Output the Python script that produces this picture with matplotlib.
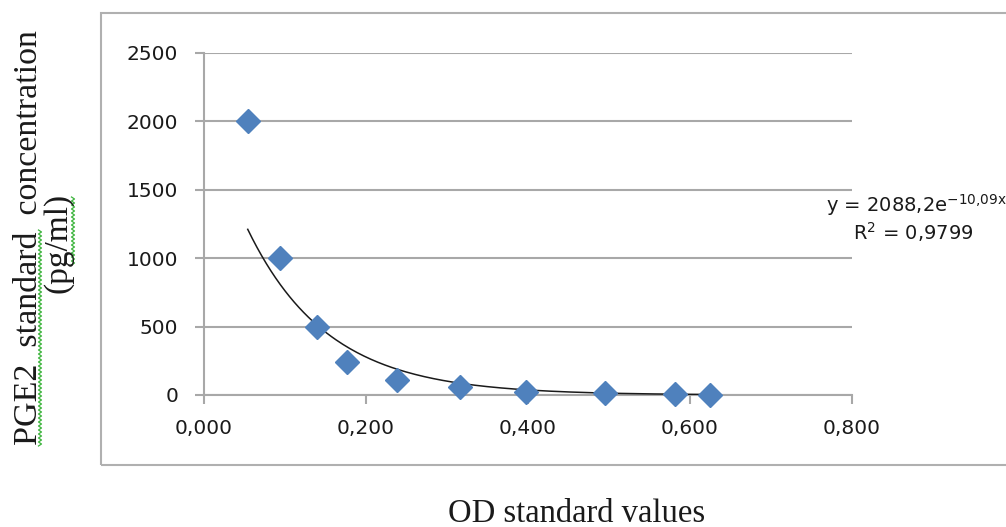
import numpy as np
import matplotlib
matplotlib.use("Agg")
import matplotlib.pyplot as plt
from matplotlib.patches import Rectangle
from matplotlib.lines import Line2D

# Data
od_values = [0.054, 0.094, 0.139, 0.177, 0.238, 0.316, 0.398, 0.495, 0.582, 0.625]
concentration = [2000, 1000, 500, 240, 110, 62, 25, 12, 6, 3]
trend_a = 2088.2
trend_k = 10.09
x_ticks = [0.0, 0.2, 0.4, 0.6, 0.8]
x_tick_labels = ["0,000", "0,200", "0,400", "0,600", "0,800"]
y_ticks = [0, 500, 1000, 1500, 2000, 2500]
y_tick_labels = ["0", "500", "1000", "1500", "2000", "2500"]

W, H = 1006, 527
fig = plt.figure(figsize=(W / 100, H / 100), dpi=100)
fig.patch.set_facecolor("white")


def fx(px):
    return px / W


def fy(py):
    return 1 - py / H


# Chart area border
fig.patches.append(Rectangle((fx(101), fy(465)), (1010 - 101) / W, (465 - 13) / H,
                             transform=fig.transFigure, fill=False,
                             edgecolor="#b0b0b0", linewidth=1.5))

ax = fig.add_axes([fx(204), fy(395), (852 - 204) / W, (395 - 53) / H])
ax.set_xlim(0, 0.8)
ax.set_ylim(0, 2500)

grid_c = "#a8a8a8"
for s in ["top", "right"]:
    ax.spines[s].set_visible(False)
for s in ["left", "bottom"]:
    ax.spines[s].set_color(grid_c)
    ax.spines[s].set_linewidth(1.5)
ax.yaxis.grid(True, color=grid_c, linewidth=1.5)
ax.set_axisbelow(True)

ax.set_xticks(x_ticks)
ax.set_xticklabels(x_tick_labels)
ax.set_yticks(y_ticks)
ax.set_yticklabels(y_tick_labels)
ax.tick_params(axis="both", colors=grid_c, width=1.5, length=6.5, labelcolor="#1a1a1a",
               labelsize=14.5)
ax.tick_params(axis="y", pad=12)
ax.tick_params(axis="x", pad=11)
for lab in ax.get_xticklabels() + ax.get_yticklabels():
    lab.set_fontfamily("DejaVu Sans")

# Trend line
xt = np.linspace(min(od_values), max(od_values), 200)
ax.plot(xt, trend_a * np.exp(-trend_k * xt), color="#1a1a1a", linewidth=1.1, zorder=3)

ax.plot(od_values, concentration, linestyle="none", marker="D", markersize=12,
        color="#4F81BD", markeredgecolor="#4F81BD", zorder=4, clip_on=False)

# Equation
fig.text(fx(826), fy(212), r"y = 2088,2e$^{\mathrm{-10{,}09x}}$", fontsize=14, color="#1a1a1a",
         family="DejaVu Sans", va="baseline", ha="left")
fig.text(fx(853), fy(240), "R$^{\mathrm{2}}$ = 0,9799", fontsize=14, color="#1a1a1a",
         family="DejaVu Sans", va="baseline", ha="left")

# Axis labels
fig.text(fx(37), fy(238), "PGE2  standard  concentration", rotation=90,
         rotation_mode="anchor", fontsize=24.5, family="Liberation Serif",
         ha="center", va="baseline", color="#1a1a1a")
fig.text(fx(66), fy(243), "(pg/ml)", rotation=90, rotation_mode="anchor",
         fontsize=24, family="Liberation Serif", ha="center", va="baseline", color="#1a1a1a")
fig.text(fx(577), fy(522), "OD standard values", fontsize=23.5,
         family="Liberation Serif", ha="center", va="baseline", color="#1a1a1a")


# Spell-check squiggles (decoration)
def squiggle(xc, y0, y1):
    ys = np.arange(y0, y1, 2.0)
    xs = xc + np.where(np.arange(len(ys)) % 2 == 0, -1.5, 1.5)
    fig.add_artist(Line2D(fx(xs), fy(ys), transform=fig.transFigure,
                          color="#3cb43c", linewidth=0.9))


squiggle(40, 230, 448)
squiggle(73, 197, 266)

fig.savefig("out.png", dpi=100)
